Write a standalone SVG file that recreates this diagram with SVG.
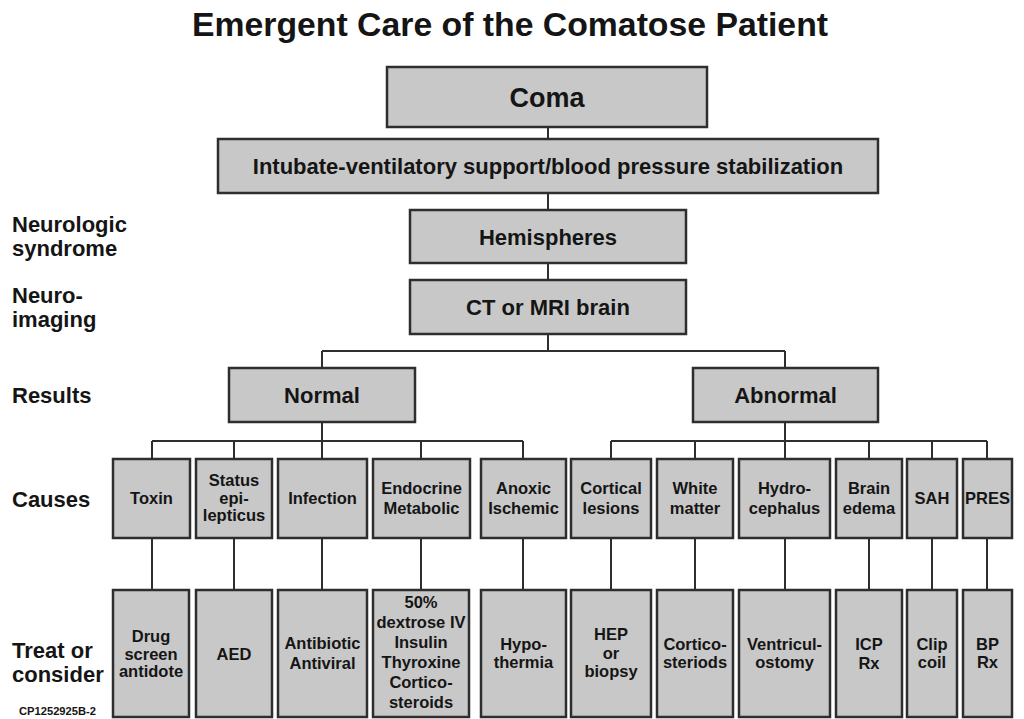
<svg xmlns="http://www.w3.org/2000/svg" width="1024" height="719" viewBox="0 0 1024 719">
<style>
text{font-family:"Liberation Sans",Arial,sans-serif;font-weight:bold;fill:#151515}
.box{fill:#c8c8c8;stroke:#2e2e2e;stroke-width:2.5}
.c{text-anchor:middle}
.t{font-size:33px}
.big{font-size:27px}
.m{font-size:22px}
.s{font-size:16.5px}
.lab{font-size:22px}
.code{font-size:10px}
.conn{fill:none;stroke:#2e2e2e;stroke-width:2}
</style>
<rect width="1024" height="719" fill="#fff"/>
<text class="t c" x="510" y="36" textLength="636" lengthAdjust="spacingAndGlyphs">Emergent Care of the Comatose Patient</text>

<g id="labels">
<text class="lab" x="12" y="232">Neurologic</text>
<text class="lab" x="12" y="256">syndrome</text>
<text class="lab" x="12" y="303">Neuro-</text>
<text class="lab" x="12" y="327">imaging</text>
<text class="lab" x="12" y="403">Results</text>
<text class="lab" x="12" y="507">Causes</text>
<text class="lab" x="12" y="658">Treat or</text>
<text class="lab" x="12" y="682">consider</text>
<text class="code" x="19" y="715" textLength="77" lengthAdjust="spacingAndGlyphs">CP1252925B-2</text>
</g>

<g id="connectors">
<path class="conn" d="M548 127V139M548 193V210M548 263V280M548 334V351M322 351H785M322 351V368M785 351V368"/>
<path class="conn" d="M322 422V441M152 441H523M152 441V459M234 441V459M322 441V459M421 441V459M523 441V459"/>
<path class="conn" d="M785 422V441M611 441H987M611 441V459M695 441V459M785 441V459M869 441V459M932 441V459M987 441V459"/>
<path class="conn" d="M152 538V590M234 538V590M322 538V590M421 538V590M523 538V590M611 538V590M695 538V590M785 538V590M869 538V590M932 538V590M987 538V590"/>
</g>

<g id="coma"><rect class="box" x="387" y="67" width="320" height="60"/><text class="big c" x="547" y="107">Coma</text></g>
<g id="intubate"><rect class="box" x="218" y="139" width="660" height="54"/><text class="m c" x="548" y="174">Intubate-ventilatory support/blood pressure stabilization</text></g>
<g id="hemispheres"><rect class="box" x="410" y="210" width="276" height="53"/><text class="m c" x="548" y="245">Hemispheres</text></g>
<g id="ct"><rect class="box" x="410" y="280" width="276" height="54"/><text class="m c" x="548" y="315">CT or MRI brain</text></g>
<g id="normal"><rect class="box" x="229" y="368" width="186" height="54"/><text class="m c" x="322" y="403">Normal</text></g>
<g id="abnormal"><rect class="box" x="693" y="368" width="185" height="54"/><text class="m c" x="785.5" y="403">Abnormal</text></g>

<g id="toxin"><rect class="box" x="113" y="459" width="77" height="79"/><text class="s c" x="151.5" y="504">Toxin</text></g>
<g id="status"><rect class="box" x="196" y="459" width="76" height="79"/><text class="s c" x="234" y="486">Status</text><text class="s c" x="234" y="503.5">epi-</text><text class="s c" x="234" y="521">lepticus</text></g>
<g id="infection"><rect class="box" x="278" y="459" width="89" height="79"/><text class="s c" x="322.5" y="504">Infection</text></g>
<g id="endocrine"><rect class="box" x="373" y="459" width="97" height="79"/><text class="s c" x="421.5" y="494">Endocrine</text><text class="s c" x="421.5" y="514">Metabolic</text></g>
<g id="anoxic"><rect class="box" x="481" y="459" width="85" height="79"/><text class="s c" x="523.5" y="494">Anoxic</text><text class="s c" x="523.5" y="514">Ischemic</text></g>
<g id="cortical"><rect class="box" x="571" y="459" width="80" height="79"/><text class="s c" x="611" y="494">Cortical</text><text class="s c" x="611" y="514">lesions</text></g>
<g id="white"><rect class="box" x="657" y="459" width="76" height="79"/><text class="s c" x="695" y="494">White</text><text class="s c" x="695" y="514">matter</text></g>
<g id="hydro"><rect class="box" x="739" y="459" width="91" height="79"/><text class="s c" x="784.5" y="494">Hydro-</text><text class="s c" x="784.5" y="514">cephalus</text></g>
<g id="edema"><rect class="box" x="836" y="459" width="66" height="79"/><text class="s c" x="869" y="494">Brain</text><text class="s c" x="869" y="514">edema</text></g>
<g id="sah"><rect class="box" x="907" y="459" width="50" height="79"/><text class="s c" x="932" y="504">SAH</text></g>
<g id="pres"><rect class="box" x="963" y="459" width="49" height="79"/><text class="s c" x="987.5" y="504">PRES</text></g>

<g id="t-toxin"><rect class="box" x="113" y="590" width="76" height="127"/><text class="s c" x="151" y="642">Drug</text><text class="s c" x="151" y="659.5">screen</text><text class="s c" x="151" y="677">antidote</text></g>
<g id="t-status"><rect class="box" x="196" y="590" width="76" height="127"/><text class="s c" x="234" y="660">AED</text></g>
<g id="t-infection"><rect class="box" x="278" y="590" width="89" height="127"/><text class="s c" x="322.5" y="649">Antibiotic</text><text class="s c" x="322.5" y="669">Antiviral</text></g>
<g id="t-endocrine"><rect class="box" x="373" y="590" width="96" height="127"/><text class="s c" x="421" y="608">50%</text><text class="s c" x="421" y="628">dextrose IV</text><text class="s c" x="421" y="648">Insulin</text><text class="s c" x="421" y="668">Thyroxine</text><text class="s c" x="421" y="688">Cortico-</text><text class="s c" x="421" y="708">steroids</text></g>
<g id="t-anoxic"><rect class="box" x="481" y="590" width="85" height="127"/><text class="s c" x="523.5" y="650">Hypo-</text><text class="s c" x="523.5" y="668">thermia</text></g>
<g id="t-cortical"><rect class="box" x="571" y="590" width="80" height="127"/><text class="s c" x="611" y="640">HEP</text><text class="s c" x="611" y="658.5">or</text><text class="s c" x="611" y="677">biopsy</text></g>
<g id="t-white"><rect class="box" x="657" y="590" width="76" height="127"/><text class="s c" x="695" y="650">Cortico-</text><text class="s c" x="695" y="668">steriods</text></g>
<g id="t-hydro"><rect class="box" x="739" y="590" width="91" height="127"/><text class="s c" x="784.5" y="650">Ventricul-</text><text class="s c" x="784.5" y="668">ostomy</text></g>
<g id="t-edema"><rect class="box" x="836" y="590" width="66" height="127"/><text class="s c" x="869" y="650">ICP</text><text class="s c" x="869" y="669">Rx</text></g>
<g id="t-sah"><rect class="box" x="907" y="590" width="50" height="127"/><text class="s c" x="932" y="650">Clip</text><text class="s c" x="932" y="668">coil</text></g>
<g id="t-pres"><rect class="box" x="963" y="590" width="49" height="127"/><text class="s c" x="987.5" y="650">BP</text><text class="s c" x="987.5" y="668">Rx</text></g>
</svg>
